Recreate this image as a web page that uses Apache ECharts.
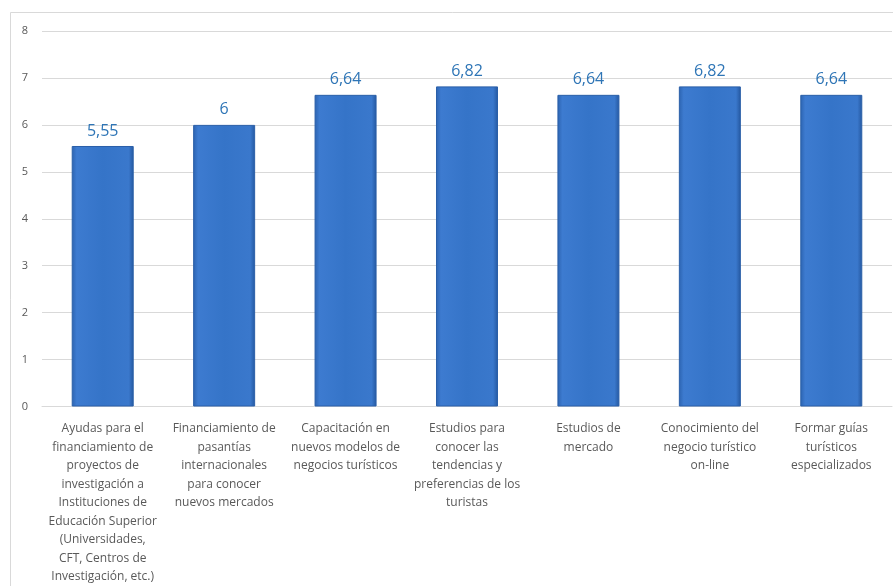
<!DOCTYPE html>
<html>
<head>
<meta charset="utf-8">
<script src="https://cdn.jsdelivr.net/npm/echarts@6/dist/echarts.min.js"></script>
<style>
html,body{margin:0;padding:0;background:#fff;}
#chart{width:893px;height:586px;}
</style>
</head>
<body>
<div id="chart"></div>
<script>
const categories = [
  "Ayudas para el\nfinanciamiento de\nproyectos de\ninvestigación a\nInstituciones de\nEducación Superior\n(Universidades,\nCFT, Centros de\nInvestigación, etc.)",
  "Financiamiento de\npasantías\ninternacionales\npara conocer\nnuevos mercados",
  "Capacitación en\nnuevos modelos de\nnegocios turísticos",
  "Estudios para\nconocer las\ntendencias y\npreferencias de los\nturistas",
  "Estudios de\nmercado",
  "Conocimiento del\nnegocio turístico\non-line",
  "Formar guías\nturísticos\nespecializados"
];
const values = [5.55, 6, 6.64, 6.82, 6.64, 6.82, 6.64];
const yTicks = [0, 1, 2, 3, 4, 5, 6, 7, 8];

const chart = echarts.init(document.getElementById('chart'));
const FONT = "'Open Sans', 'Noto Sans', sans-serif";
chart.setOption({
  animation: false,
  backgroundColor: '#fff',
  graphic: [{
    type: 'rect',
    shape: {x: 10.5, y: 12.5, width: 900, height: 600},
    style: {fill: 'none', stroke: '#d9d9d9', lineWidth: 1},
    z: -1
  }],
  grid: {left: 42, right: 1, top: 31, bottom: 178, containLabel: false},
  xAxis: {
    type: 'category',
    data: categories,
    axisTick: {show: false},
    axisLine: {lineStyle: {color: '#d9d9d9'}},
    axisLabel: {
      interval: 0,
      color: '#595959',
      fontFamily: FONT,
      fontSize: 12,
      lineHeight: 18.5,
      margin: 13
    }
  },
  yAxis: {
    type: 'value',
    min: yTicks[0],
    max: yTicks[yTicks.length - 1],
    interval: 1,
    axisLine: {show: false},
    axisTick: {show: false},
    splitLine: {lineStyle: {color: '#d9d9d9'}},
    axisLabel: {color: '#595959', fontFamily: FONT, fontSize: 11, margin: 14}
  },
  series: [{
    type: 'bar',
    data: values,
    barWidth: 62,
    itemStyle: {
      color: new echarts.graphic.LinearGradient(0, 0, 1, 0, [
        {offset: 0, color: '#2c63b0'},
        {offset: 0.08, color: '#3d7bd0'},
        {offset: 0.5, color: '#3574c8'},
        {offset: 0.92, color: '#3a78cc'},
        {offset: 1, color: '#24579f'}
      ]),
      borderColor: '#2a5fa8',
      borderWidth: 1
    },
    label: {
      show: true,
      position: 'top',
      distance: 7,
      color: '#2e75b6',
      fontFamily: FONT,
      fontSize: 16,
      formatter: p => String(p.value).replace('.', ',')
    }
  }]
});
</script>
</body>
</html>
